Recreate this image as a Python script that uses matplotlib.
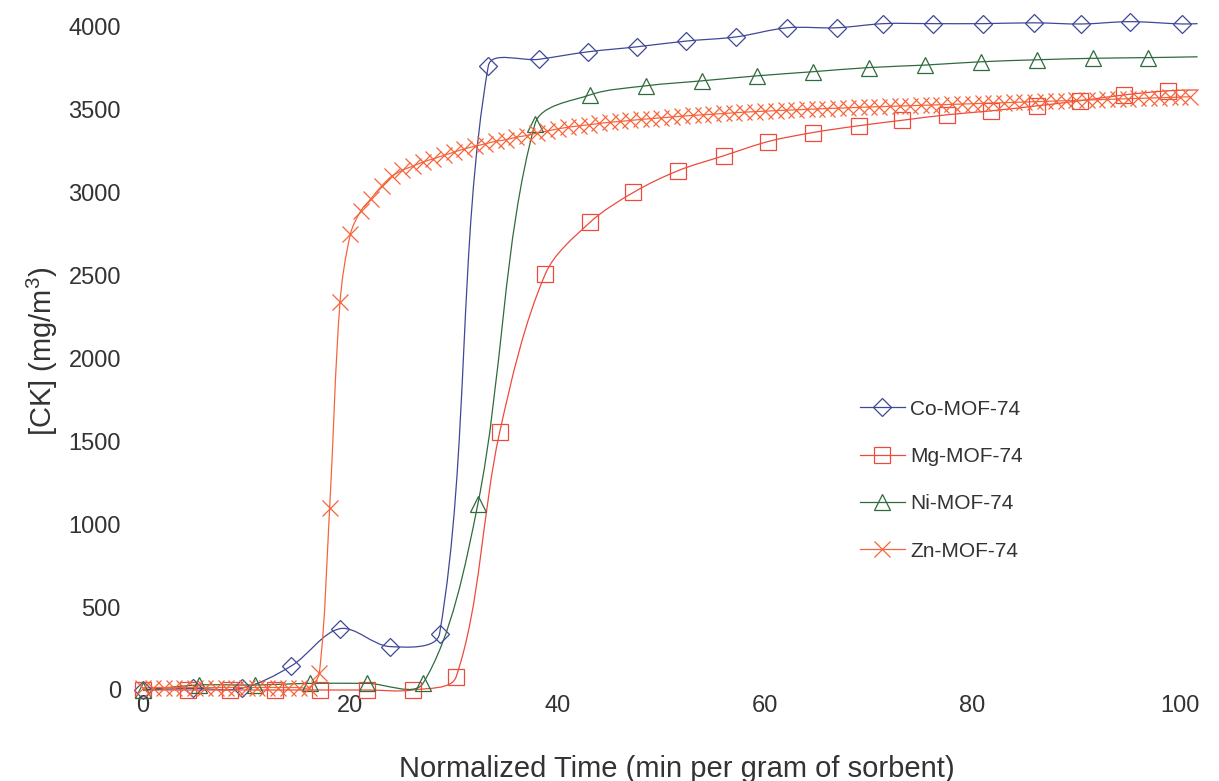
import numpy as np
import matplotlib
matplotlib.use("Agg")
import matplotlib.pyplot as plt
from matplotlib.path import Path
from matplotlib.patches import PathPatch
from matplotlib.lines import Line2D

plt.rcParams['font.family'] = ['Liberation Sans', 'DejaVu Sans']
plt.rcParams['mathtext.default'] = 'regular'

# Data
co_time = [0, 4.8, 9.5, 14.3, 19.0, 23.8, 28.6, 33.3, 38.2, 42.9, 47.6, 52.4, 57.2,
           62.1, 66.9, 71.4, 76.2, 81.0, 85.9, 90.5, 95.2, 100.2, 101.7]
co_conc = [0, 10, 10, 145, 370, 262, 340, 3765, 3805, 3850, 3880, 3915, 3940,
           3995, 3995, 4020, 4020, 4020, 4025, 4018, 4032, 4018, 4020]

mg_time = [0, 4.3, 8.4, 12.7, 17.1, 21.6, 26.0, 30.2, 34.4, 38.8, 43.1, 47.3, 51.6,
           56.0, 60.3, 64.6, 69.0, 73.2, 77.5, 81.8, 86.2, 90.4, 94.6, 98.8, 101.7]
mg_conc = [0, 0, 0, 0, 0, 0, 0, 80, 1556, 2510, 2821, 3002, 3133,
           3223, 3309, 3363, 3404, 3437, 3470, 3494, 3524, 3555, 3590, 3615, 3620]

ni_time = [0, 5.4, 10.8, 16.1, 21.6, 27.0, 32.3, 37.8, 43.1, 48.5, 53.9, 59.2, 64.6,
           70.0, 75.4, 80.8, 86.2, 91.6, 96.9, 101.7]
ni_conc = [0, 30, 30, 40, 40, 40, 1125, 3415, 3590, 3645, 3675, 3705, 3730,
           3755, 3770, 3790, 3802, 3811, 3815, 3820]

zn_time = [0, 1, 2, 3, 4, 5, 6, 7, 8, 9, 10, 11, 12, 13, 14, 15, 16, 17, 18, 19,
           20, 21, 22, 23, 24, 25, 26, 27, 28, 29, 30, 31, 32, 33, 34, 35, 36, 37, 38, 39,
           40, 41, 42, 43, 44, 45, 46, 47, 48, 49, 50, 51, 52, 53, 54, 55, 56, 57, 58, 59,
           60, 61, 62, 63, 64, 65, 66, 67, 68, 69, 70, 71, 72, 73, 74, 75, 76, 77, 78, 79,
           80, 81, 82, 83, 84, 85, 86, 87, 88, 89, 90, 91, 92, 93, 94, 95, 96, 97, 98, 99,
           100, 101]
zn_conc = [10, 15, 15, 15, 15, 15, 15, 15, 15, 15, 15, 15, 15, 15, 15, 15, 15, 100, 1100, 2340,
           2750, 2890, 2965, 3040, 3100, 3135, 3160, 3185, 3205, 3225, 3245, 3265, 3280, 3295, 3310, 3320, 3335, 3345, 3360, 3372,
           3385, 3395, 3403, 3410, 3418, 3425, 3430, 3436, 3442, 3447, 3452, 3457, 3462, 3466, 3470, 3474, 3478, 3482, 3486, 3489,
           3492, 3495, 3498, 3500, 3503, 3505, 3508, 3510, 3512, 3515, 3517, 3519, 3521, 3523, 3525, 3527, 3529, 3531, 3533, 3535,
           3537, 3539, 3541, 3543, 3545, 3547, 3549, 3551, 3553, 3555, 3557, 3559, 3561, 3563, 3565, 3567, 3569, 3571, 3573, 3575,
           3577, 3579]

x_ticks = [0, 20, 40, 60, 80, 100]
y_ticks = [0, 500, 1000, 1500, 2000, 2500, 3000, 3500, 4000]


def smooth_line(ax, xs, ys, color):
    # smoothed curve like a spreadsheet "smoothed line", built in screen space
    pts = ax.transData.transform(np.column_stack([xs, ys]))
    n = len(pts)
    verts = [pts[0]]
    codes = [Path.MOVETO]
    for i in range(n - 1):
        p0 = pts[i - 1] if i > 0 else pts[i]
        p1 = pts[i]
        p2 = pts[i + 1]
        p3 = pts[i + 2] if i + 2 < n else pts[i + 1]
        d01 = np.hypot(*(p1 - p0))
        d12 = np.hypot(*(p2 - p1))
        d23 = np.hypot(*(p3 - p2))
        c1 = p1 + (p2 - p0) * d12 / max(d01 + d12, 1e-9) / 3
        c2 = p2 - (p3 - p1) * d12 / max(d12 + d23, 1e-9) / 3
        verts += [c1, c2, p2]
        codes += [Path.CURVE4] * 3
    verts = ax.transData.inverted().transform(np.array(verts))
    patch = PathPatch(Path(verts, codes), facecolor='none', edgecolor=color,
                      lw=0.9, clip_on=False)
    ax.add_patch(patch)


fig = plt.figure(figsize=(12.19, 7.81), dpi=100)
ax = fig.add_axes([0.1003, 0.1144, 0.8932, 0.8723])
ax.set_xlim(-2, 103)
ax.set_ylim(-10, 4100)

series = [
    ("Co-MOF-74", co_time, co_conc, "#3f4896", "D", 9, len(co_time) - 1),
    ("Mg-MOF-74", mg_time, mg_conc, "#ee4a3c", "s", 12, len(mg_time) - 1),
    ("Ni-MOF-74", ni_time, ni_conc, "#2f6b3c", "^", 12, len(ni_time) - 1),
    ("Zn-MOF-74", zn_time, zn_conc, "#f5653c", "x", 12, len(zn_time)),
]

handles = []
for name, t, c, col, mk, ms, nm in series:
    smooth_line(ax, t, c, col)
    ax.plot(t[:nm], c[:nm], linestyle='none', marker=mk, ms=ms, mfc='none',
            mec=col, mew=0.9, clip_on=False)
    handles.append(Line2D([], [], color=col, lw=0.9, marker=mk, ms=ms,
                          mfc='none', mec=col, mew=0.9))

for s in ax.spines.values():
    s.set_visible(False)
ax.set_xticks(x_ticks)
ax.set_yticks(y_ticks)
ax.tick_params(length=0, labelsize=17, labelcolor='#333333')
ax.tick_params(axis='y', pad=1)
ax.tick_params(axis='x', pad=2.5)
ax.set_xlabel("Normalized Time (min per gram of sorbent)", fontsize=21,
              color='#333333', labelpad=27, x=0.509)
ax.set_ylabel("[CK] (mg/m$^3$)", fontsize=21, color='#333333', labelpad=6)

leg = ax.legend(handles, [s[0] for s in series], loc='upper left',
                bbox_to_anchor=(841 / 1219, 1 - 381 / 781),
                bbox_transform=fig.transFigure, frameon=False, fontsize=15,
                handlelength=2.16, handletextpad=0.25, labelspacing=1.36,
                numpoints=1)
for txt in leg.get_texts():
    txt.set_color('#333333')

fig.savefig("out.png", dpi=100)
